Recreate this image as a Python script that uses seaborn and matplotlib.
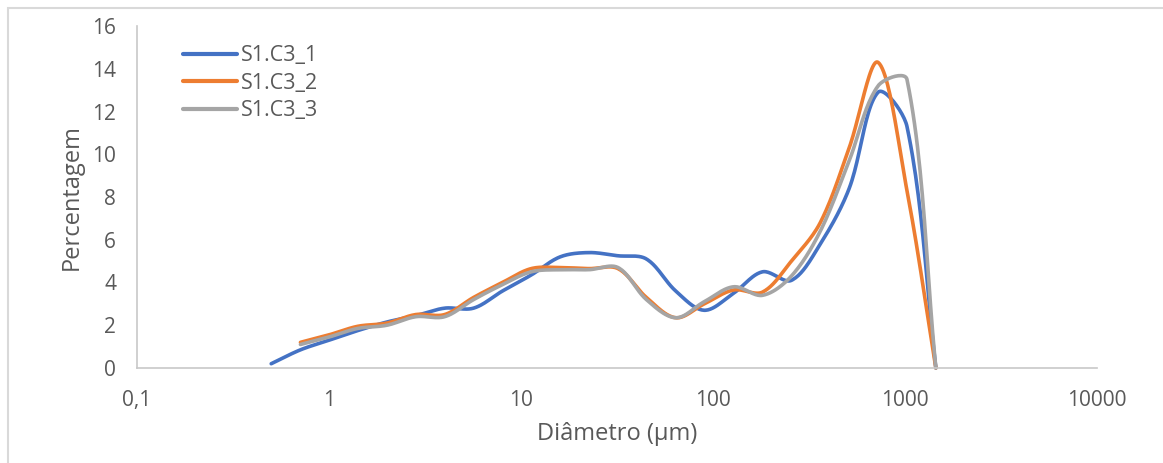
import matplotlib
matplotlib.use('Agg')
import matplotlib.pyplot as plt
import matplotlib.ticker as mticker
from matplotlib.patches import Rectangle
import numpy as np
import pandas as pd
import seaborn as sns

# particle size classes (um) and percentages
diam_1 = [0.5, 0.71, 1, 1.41, 2, 2.83, 4, 5.66, 8, 11.3, 16, 22.6, 32, 45,
          64, 90, 128, 181, 256, 362, 512, 724, 1024, 1448]
s1_c3_1 = [0.2, 0.85, 1.3, 1.75, 2.15, 2.45, 2.8, 2.8, 3.6, 4.35, 5.2, 5.4, 5.25, 5.1,
           3.6, 2.7, 3.5, 4.5, 4.1, 5.8, 8.4, 12.9, 11.3, 0]

diam_2 = [0.71, 1, 1.41, 2, 2.83, 4, 5.66, 8, 11.3, 16, 22.6, 32, 45,
          64, 90, 128, 181, 256, 362, 512, 724, 1024, 1448]
s1_c3_2 = [1.2, 1.55, 1.95, 2.1, 2.5, 2.5, 3.3, 4.0, 4.65, 4.7, 4.65, 4.65, 3.3,
           2.35, 3.0, 3.65, 3.55, 5.0, 6.8, 10.3, 14.3, 8.3, 0]
s1_c3_3 = [1.1, 1.45, 1.85, 2.0, 2.4, 2.4, 3.2, 3.9, 4.5, 4.6, 4.6, 4.7, 3.2,
           2.35, 3.1, 3.8, 3.4, 4.3, 6.4, 9.7, 13.2, 13.5, 0]

series_names = ['S1.C3_1', 'S1.C3_2', 'S1.C3_3']
colors = ['#4472C4', '#ED7D31', '#A5A5A5']

x_ticks = [0.1, 1, 10, 100, 1000, 10000]
x_tick_labels = ['0,1', '1', '10', '100', '1000', '10000']


def smooth(x, y, n=24, sx=192.0, sy=21.4):
    '''
    Excel-like smoothed line: cubic Bezier segments whose control points
    follow the neighbouring points, scaled by segment length (screen units).
    '''
    px = np.log10(np.asarray(x, float)) * sx
    py = np.asarray(y, float) * sy
    pts = np.column_stack([px, py])
    m = len(pts)
    seg = np.linalg.norm(np.diff(pts, axis=0), axis=1)
    t = np.linspace(0, 1, n, endpoint=False)[:, None]
    out = []
    for i in range(m - 1):
        p1, p2 = pts[i], pts[i + 1]
        if i > 0:
            tan = pts[i + 1] - pts[i - 1]
            c1 = p1 + tan * seg[i] / (seg[i - 1] + seg[i]) / 3
        else:
            c1 = p1 + (p2 - p1) / 3
        if i < m - 2:
            tan = pts[i + 2] - pts[i]
            c2 = p2 - tan * seg[i] / (seg[i] + seg[i + 1]) / 3
        else:
            c2 = p2 - (p2 - p1) / 3
        out.append((1 - t) ** 3 * p1 + 3 * (1 - t) ** 2 * t * c1
                   + 3 * (1 - t) * t ** 2 * c2 + t ** 3 * p2)
    out.append(pts[-1][None, :])
    out = np.vstack(out)
    return 10 ** (out[:, 0] / sx), out[:, 1] / sy


sns.set_style('white')
plt.rcParams['font.family'] = ['Open Sans', 'DejaVu Sans']

fig = plt.figure(figsize=(11.63, 4.63), dpi=100)
ax = fig.add_axes([137 / 1163, 1 - 368 / 463, 960 / 1163, 342 / 463])

frames = []
for name, xs, ys in [(series_names[0], diam_1, s1_c3_1),
                     (series_names[1], diam_2, s1_c3_2),
                     (series_names[2], diam_2, s1_c3_3)]:
    cx, cy = smooth(xs, ys)
    frames.append(pd.DataFrame({'Diametro': cx, 'Percentagem': cy, 'Amostra': name}))
df = pd.concat(frames, ignore_index=True)

sns.lineplot(data=df, x='Diametro', y='Percentagem', hue='Amostra',
             palette=colors, sort=False, estimator=None, linewidth=2.6,
             ax=ax, clip_on=False)

ax.set_xscale('log')
ax.set_xlim(0.1, 10000)
ax.set_ylim(0, 16)
ax.set_xticks(x_ticks)
ax.set_xticklabels(x_tick_labels)
ax.xaxis.set_minor_locator(mticker.NullLocator())
ax.set_yticks(range(0, 17, 2))

ax.tick_params(axis='both', length=0, labelsize=15, colors='#595959')
ax.tick_params(axis='y', pad=15)
ax.tick_params(axis='x', pad=16)

for side in ['top', 'right']:
    ax.spines[side].set_visible(False)
for side in ['left', 'bottom']:
    ax.spines[side].set_color('#C8C8C8')
    ax.spines[side].set_linewidth(1.2)

ax.set_xlabel('Diâmetro (µm)', fontsize=17, color='#595959', labelpad=8)
ax.set_ylabel('Percentagem', fontsize=17, color='#595959', labelpad=6)

leg = ax.legend(loc='upper left', bbox_to_anchor=(0.039, 0.969), frameon=False,
                fontsize=15.5, handlelength=2.5, handletextpad=0.2,
                labelspacing=0.3, borderaxespad=0)
for text in leg.get_texts():
    text.set_color('#595959')
for line in leg.get_lines():
    line.set_linewidth(3)

# light frame around the chart area
fig.patches.append(Rectangle((8 / 1163, -0.1), 1.2, 1 - 8 / 463 + 0.1,
                             transform=fig.transFigure, fill=False,
                             edgecolor='#D9D9D9', linewidth=1.5))

fig.savefig('out.png', dpi=100)
